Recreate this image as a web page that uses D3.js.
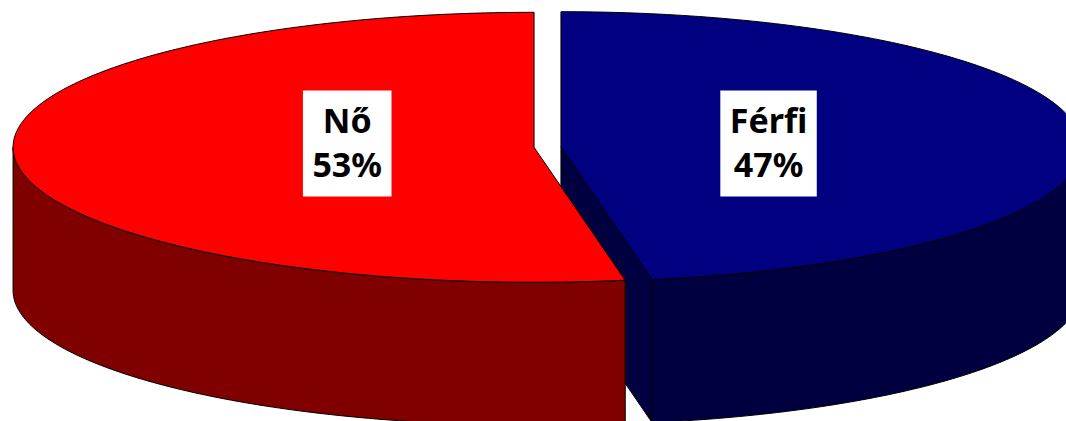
<!DOCTYPE html>
<html>
<head>
<meta charset="utf-8">
<script src="https://cdn.jsdelivr.net/npm/d3@7"></script>
<style>
  html, body { margin: 0; padding: 0; background: #fff; }
  svg { display: block; }
</style>
</head>
<body>
<svg id="chart" width="1066" height="421"></svg>
<script>
// ---- data ----
const categories = ["Nő", "Férfi"];
const values = [52.8, 47.2];
const percentLabels = ["53%", "47%"];
const topColors = ["#FF0000", "#000080"];
const sideColors = ["#800000", "#000040"];

// ---- layout ----
const W = 1066, H = 421;
const cx = 547.5, cy = 147, rx = 521, ry = 135, depth = 143, explode = 13.5;
const labelFrac = [0.36, 0.40];
const labelCenterY = 143.5;

const svg = d3.select("#chart");
const data = categories.map((c, i) => ({ name: c, value: values[i], pct: percentLabels[i], i }));

const pie = d3.pie().sort(null).value(d => d.value).startAngle(0).endAngle(-2 * Math.PI);
const arcs = pie(data);

const topColor = d3.scaleOrdinal().domain(categories).range(topColors);
const sideColor = d3.scaleOrdinal().domain(categories).range(sideColors);

const line = d3.line();
const N = 200;

arcs.forEach(a => {
  a.lo = Math.min(a.startAngle, a.endAngle);
  a.hi = Math.max(a.startAngle, a.endAngle);
  a.mid = (a.lo + a.hi) / 2;
  a.ox = explode * Math.sin(a.mid);
  a.oy = -explode * Math.cos(a.mid) * ry / rx;
  a.P = (t, h) => [cx + a.ox + rx * Math.sin(t), cy + a.oy - ry * Math.cos(t) + (h || 0)];
});

function sampleAngles(a0, a1) {
  const n = Math.max(2, Math.ceil(Math.abs(a1 - a0) / (2 * Math.PI) * N * 2));
  return d3.range(n + 1).map(k => a0 + (a1 - a0) * k / n);
}

const gWalls = svg.append("g");
const gOuter = svg.append("g");
const gTops = svg.append("g");
const gLabels = svg.append("g");

// radial walls (only the ones facing the viewer)
arcs.forEach(a => {
  const edges = [];
  if (-Math.sin(a.lo) > 1e-6) edges.push(a.lo);
  if (Math.sin(a.hi) > 1e-6) edges.push(a.hi);
  edges.forEach(t => {
    const c0 = [cx + a.ox, cy + a.oy];
    const p0 = a.P(t, 0);
    const pts = [c0, p0, [p0[0], p0[1] + depth], [c0[0], c0[1] + depth]];
    gWalls.append("path")
      .attr("d", line(pts) + "Z")
      .attr("fill", sideColor(a.data.name))
      .attr("stroke", "#000")
      .attr("stroke-width", 1)
      .attr("stroke-linejoin", "round");
  });
});

// outer walls (front visible portions)
arcs.forEach(a => {
  for (let k = -2; k <= 2; k++) {
    const s = Math.max(a.lo, Math.PI / 2 + 2 * Math.PI * k);
    const e = Math.min(a.hi, 3 * Math.PI / 2 + 2 * Math.PI * k);
    if (e - s > 1e-6) {
      const ang = sampleAngles(s, e);
      const topPts = ang.map(t => a.P(t, 0));
      const botPts = ang.slice().reverse().map(t => a.P(t, depth));
      gOuter.append("path")
        .attr("d", line(topPts.concat(botPts)) + "Z")
        .attr("fill", sideColor(a.data.name))
        .attr("stroke", "#000")
        .attr("stroke-width", 1)
        .attr("stroke-linejoin", "round");
    }
  }
});

// top faces
arcs.forEach(a => {
  const c0 = [cx + a.ox, cy + a.oy];
  const pts = [c0].concat(sampleAngles(a.lo, a.hi).map(t => a.P(t, 0)));
  gTops.append("path")
    .attr("d", line(pts) + "Z")
    .attr("fill", topColor(a.data.name))
    .attr("stroke", "#000")
    .attr("stroke-width", 1)
    .attr("stroke-linejoin", "round");
});

// labels
arcs.forEach((a, i) => {
  const lx = cx + a.ox + labelFrac[i] * rx * Math.sin(a.mid);
  const g = gLabels.append("g");
  const rect = g.append("rect").attr("fill", "#fff");
  const t = g.append("text")
    .attr("font-family", "'Noto Sans', 'Open Sans', sans-serif")
    .attr("font-weight", "bold")
    .attr("font-size", 34)
    .attr("fill", "#000")
    .attr("text-anchor", "middle");
  const boxH = 106;
  const top = labelCenterY - boxH / 2;
  t.append("tspan").attr("x", lx).attr("y", top + 42).text(a.data.name);
  t.append("tspan").attr("x", lx).attr("y", top + 86).text(a.data.pct);
  const bb = t.node().getBBox();
  const boxW = bb.width + 19;
  rect.attr("x", lx - boxW / 2).attr("y", top).attr("width", boxW).attr("height", boxH);
});
</script>
</body>
</html>
